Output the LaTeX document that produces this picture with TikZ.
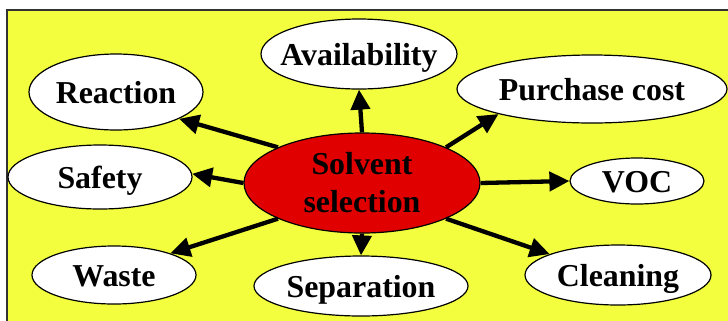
\documentclass[tikz,border=0pt]{standalone}
\usepackage{fontspec}
\setmainfont{Liberation Serif}
\usetikzlibrary{shapes.geometric,arrows.meta}
\definecolor{bgyellow}{RGB}{243,255,62}
\definecolor{hubred}{RGB}{224,0,0}
\definecolor{frame}{RGB}{50,50,50}
\newcommand\zb[1]{\makebox[0pt]{\raisebox{-11.5bp}[0pt][0pt]{#1}}}
\newcommand\zc[1]{\makebox[0pt]{#1}}
\tikzset{
  leaf/.style={ellipse, draw=black, line width=1.2bp, fill=white, inner sep=0pt,
    font=\fontsize{32}{38}\selectfont\bfseries},
  hub/.style={leaf, fill=hubred, align=center},
  arr/.style={line width=4.3bp, -{Triangle[length=20bp,width=19bp]}}
}
\begin{document}
\begin{tikzpicture}[x=1bp,y=-1bp]
\useasboundingbox (0,0) rectangle (728,320);
\fill[bgyellow] (7,10) rectangle (745,335);
\draw[frame, line width=1.3bp] (7,335) -- (7,10) -- (745,10);

\node[hub, minimum width=236bp, minimum height=100bp] (c) at (362,183) {\zc{Solvent}\\\zc{selection}};
\node[leaf, minimum width=174bp, minimum height=76bp] (reaction) at (116,92) {\zb{Reaction}};
\node[leaf, minimum width=184bp, minimum height=64bp] (safety) at (100,177) {\zb{Safety}};
\node[leaf, minimum width=164bp, minimum height=58bp] (waste) at (114,275) {\zb{Waste}};
\node[leaf, minimum width=196bp, minimum height=70bp] (avail) at (359,54) {\zb{Availability}};
\node[leaf, minimum width=270bp, minimum height=68bp] (purchase) at (592,89) {\zb{Purchase cost}};
\node[leaf, minimum width=134bp, minimum height=46bp] (voc) at (637,181) {\zb{VOC}};
\node[leaf, minimum width=186bp, minimum height=60bp] (cleaning) at (618,275) {\zb{Cleaning}};
\node[leaf, minimum width=214bp, minimum height=60bp] (separation) at (361,286) {\zb{Separation}};

\draw[arr] (c.157) -- (reaction.337);
\draw[arr] (c.180) -- (safety.2);
\draw[arr] (c.203) -- (waste.21);
\draw[arr] (c.90) -- (avail.270);
\draw[arr] (c.23) -- (purchase.195);
\draw[arr] (c.0) -- (voc.180);
\draw[arr] (c.337) -- (cleaning.163);
\draw[arr] (c.270) -- (separation.90);
\end{tikzpicture}
\end{document}
